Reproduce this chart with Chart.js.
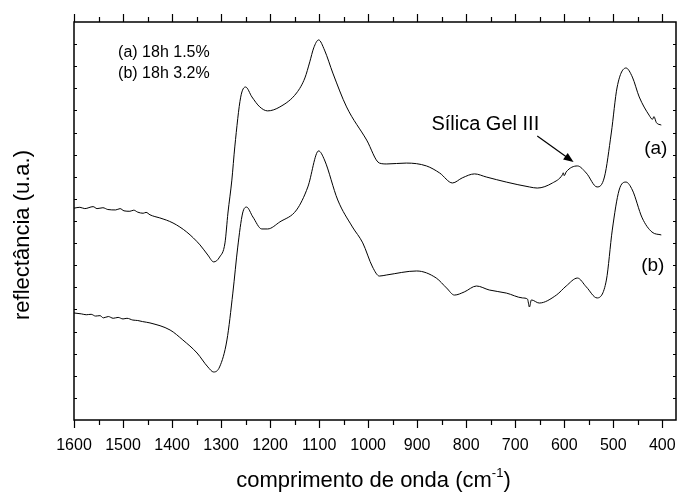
<!DOCTYPE html>
<html>
<head>
<meta charset="utf-8">
<script src="https://cdn.jsdelivr.net/npm/chart.js@4.4.1/dist/chart.umd.min.js"></script>
<style>
  html, body { margin: 0; padding: 0; background: #fff; }
  canvas { display: block; }
</style>
</head>
<body>
<canvas id="spectra" width="677" height="492"></canvas>
<script>
// wavenumbers (cm-1) and reflectance (arbitrary units)
const waveA = [1600, 1588, 1578, 1561, 1553, 1541, 1531, 1515, 1506, 1498, 1486, 1478, 1470, 1459, 1453, 1445, 1435, 1425,
  1398, 1370, 1343, 1327, 1315, 1303, 1292, 1286, 1278, 1272, 1260, 1250, 1237, 1221, 1205, 1180, 1146, 1129, 1119, 1111,
  1101, 1089, 1072, 1044, 1003, 977, 962, 922, 881, 854, 828, 808, 783, 759, 718, 671, 655, 624, 604, 602, 600, 596, 573,
  555, 533, 518, 504, 492, 474, 461, 447, 427, 420, 417, 412, 402];
const reflA = [9.58, 9.62, 9.56, 9.65, 9.56, 9.60, 9.52, 9.50, 9.56, 9.46, 9.44, 9.49, 9.40, 9.35, 9.39, 9.28, 9.20, 9.14,
  8.91, 8.50, 7.92, 7.46, 7.15, 7.37, 8.01, 9.36, 10.85, 12.35, 14.60, 15.06, 14.61, 14.16, 13.98, 14.16, 14.79, 15.47, 16.20, 16.83,
  17.19, 16.73, 15.69, 14.16, 12.66, 11.62, 11.58, 11.62, 11.49, 11.17, 10.72, 10.95, 11.13, 10.99, 10.76, 10.54, 10.49, 10.72, 11.08, 11.18, 11.05, 11.22, 11.49,
  11.17, 10.54, 10.99, 12.98, 15.06, 15.92, 15.51, 14.61, 13.79, 13.60, 13.72, 13.45, 13.34];

const waveB = [1600, 1585, 1575, 1565, 1556, 1547, 1540, 1530, 1520, 1510, 1500, 1492, 1480, 1470, 1460, 1445,
  1404, 1378, 1349, 1327, 1315, 1303, 1288, 1276, 1266, 1256, 1248, 1235, 1217, 1205, 1180, 1146, 1123, 1101, 1089,
  1062, 1032, 1011, 991, 977, 962, 901, 861, 840, 824, 804, 779, 753, 718, 685, 675, 671, 667, 651, 616, 596, 573,
  555, 533, 514, 502, 488, 474, 461, 441, 421, 402];
const reflB = [4.84, 4.80, 4.76, 4.78, 4.70, 4.72, 4.62, 4.68, 4.60, 4.64, 4.57, 4.60, 4.52, 4.50, 4.45, 4.39,
  4.07, 3.62, 3.03, 2.40, 2.17, 2.40, 3.62, 5.74, 7.82, 9.36, 9.63, 9.18, 8.64, 8.64, 8.96, 9.50, 10.54, 12.17, 11.76,
  9.95, 8.73, 8.01, 6.92, 6.51, 6.56, 6.74, 6.42, 5.97, 5.65, 5.79, 6.06, 5.88, 5.74, 5.52, 5.47, 5.11, 5.43, 5.29, 5.65, 6.06, 6.42,
  6.02, 5.52, 6.33, 8.59, 10.40, 10.76, 10.40, 9.14, 8.50, 8.37];

const tickLabels = [1600, 1500, 1400, 1300, 1200, 1100, 1000, 900, 800, 700, 600, 500, 400];
const minorTicks = [1550, 1450, 1350, 1250, 1150, 1050, 950, 850, 750, 650, 550, 450];

const FONT = '"Liberation Sans", Arial, sans-serif';

const toPoints = (xs, ys) => xs.map((x, i) => ({ x: x, y: ys[i] }));

// frame, ticks, labels and notes drawn on top of the curves
const decorations = {
  id: 'decorations',
  afterDraw(chart) {
    const { ctx, chartArea: a, scales: { x, y } } = chart;
    ctx.save();
    ctx.strokeStyle = '#000';
    ctx.fillStyle = '#000';

    ctx.lineWidth = 1.5;
    ctx.strokeRect(a.left, a.top, a.right - a.left, a.bottom - a.top);

    ctx.lineWidth = 1.2;
    ctx.beginPath();
    tickLabels.concat(minorTicks).forEach(v => {
      const px = Math.round(x.getPixelForValue(v)) + 0.5;
      const len = tickLabels.includes(v) ? 8 : 5;
      ctx.moveTo(px, a.bottom); ctx.lineTo(px, a.bottom + len);
      ctx.moveTo(px, a.top); ctx.lineTo(px, a.top - len);
    });
    for (let v = 1; v < 18; v++) {
      const py = Math.round(y.getPixelForValue(v)) + 0.5;
      ctx.moveTo(a.left, py); ctx.lineTo(a.left + 3, py);
      ctx.moveTo(a.right, py); ctx.lineTo(a.right - 3, py);
    }
    ctx.stroke();

    ctx.textBaseline = 'alphabetic';
    ctx.textAlign = 'left';
    ctx.font = '16px ' + FONT;
    ctx.fillText('(a) 18h 1.5%', x.getPixelForValue(1510), y.getPixelForValue(16.4));
    ctx.fillText('(b) 18h 3.2%', x.getPixelForValue(1510), y.getPixelForValue(15.45));

    ctx.font = '19px ' + FONT;
    ctx.fillText('(a)', x.getPixelForValue(437), y.getPixelForValue(12.03));
    ctx.fillText('(b)', x.getPixelForValue(443), y.getPixelForValue(6.74));

    ctx.font = '20px ' + FONT;
    ctx.fillText('Sílica Gel III', x.getPixelForValue(871), y.getPixelForValue(13.12));

    // arrow pointing at the silica gel band
    const x0 = x.getPixelForValue(655), y0 = y.getPixelForValue(12.84);
    const x1 = x.getPixelForValue(581), y1 = y.getPixelForValue(11.67);
    const ang = Math.atan2(y1 - y0, x1 - x0);
    ctx.lineWidth = 1.2;
    ctx.beginPath();
    ctx.moveTo(x0, y0);
    ctx.lineTo(x1 - 6 * Math.cos(ang), y1 - 6 * Math.sin(ang));
    ctx.stroke();
    ctx.beginPath();
    ctx.moveTo(x1, y1);
    ctx.lineTo(x1 - 10 * Math.cos(ang) + 4 * Math.sin(ang), y1 - 10 * Math.sin(ang) - 4 * Math.cos(ang));
    ctx.lineTo(x1 - 10 * Math.cos(ang) - 4 * Math.sin(ang), y1 - 10 * Math.sin(ang) + 4 * Math.cos(ang));
    ctx.closePath();
    ctx.fill();

    // x title with superscript
    const main = 'comprimento de onda (cm', sup = '-1', end = ')';
    ctx.font = '22px ' + FONT;
    const wMain = ctx.measureText(main).width, wEnd = ctx.measureText(end).width;
    ctx.font = '13px ' + FONT;
    const wSup = ctx.measureText(sup).width;
    let tx = 373.5 - (wMain + wSup + wEnd) / 2;
    const ty = 487;
    ctx.font = '22px ' + FONT;
    ctx.fillText(main, tx, ty);
    tx += wMain;
    ctx.font = '13px ' + FONT;
    ctx.fillText(sup, tx, ty - 10);
    tx += wSup;
    ctx.font = '22px ' + FONT;
    ctx.fillText(end, tx, ty);

    // y title
    ctx.translate(29, 235);
    ctx.rotate(-Math.PI / 2);
    ctx.textAlign = 'center';
    ctx.font = '22px ' + FONT;
    ctx.fillText('reflectância (u.a.)', 0, 0);
    ctx.restore();
  }
};

new Chart(document.getElementById('spectra'), {
  type: 'line',
  data: {
    datasets: [
      { label: '(a) 18h 1.5%', data: toPoints(waveA, reflA) },
      { label: '(b) 18h 3.2%', data: toPoints(waveB, reflB) }
    ]
  },
  options: {
    responsive: false,
    animation: false,
    devicePixelRatio: 1,
    layout: { padding: { top: 22, right: 1, left: 0, bottom: 0 } },
    elements: {
      line: { borderColor: '#000', borderWidth: 1, fill: false, cubicInterpolationMode: 'monotone' },
      point: { radius: 0 }
    },
    plugins: { legend: { display: false }, tooltip: { enabled: false } },
    scales: {
      x: {
        type: 'linear',
        reverse: true,
        min: 372,
        max: 1600,
        afterBuildTicks: s => { s.ticks = tickLabels.map(v => ({ value: v })); },
        afterFit: s => { s.height = 72; s.paddingLeft = 0; s.paddingRight = 0; },
        grid: { display: false },
        border: { display: false },
        ticks: {
          color: '#000', font: { family: FONT, size: 16 }, padding: 8, maxRotation: 0, autoSkip: false,
          callback: v => String(v)
        }
      },
      y: {
        min: 0,
        max: 18,
        afterFit: s => { s.width = 74; },
        grid: { display: false },
        border: { display: false },
        ticks: { display: false }
      }
    }
  },
  plugins: [decorations]
});
</script>
</body>
</html>
